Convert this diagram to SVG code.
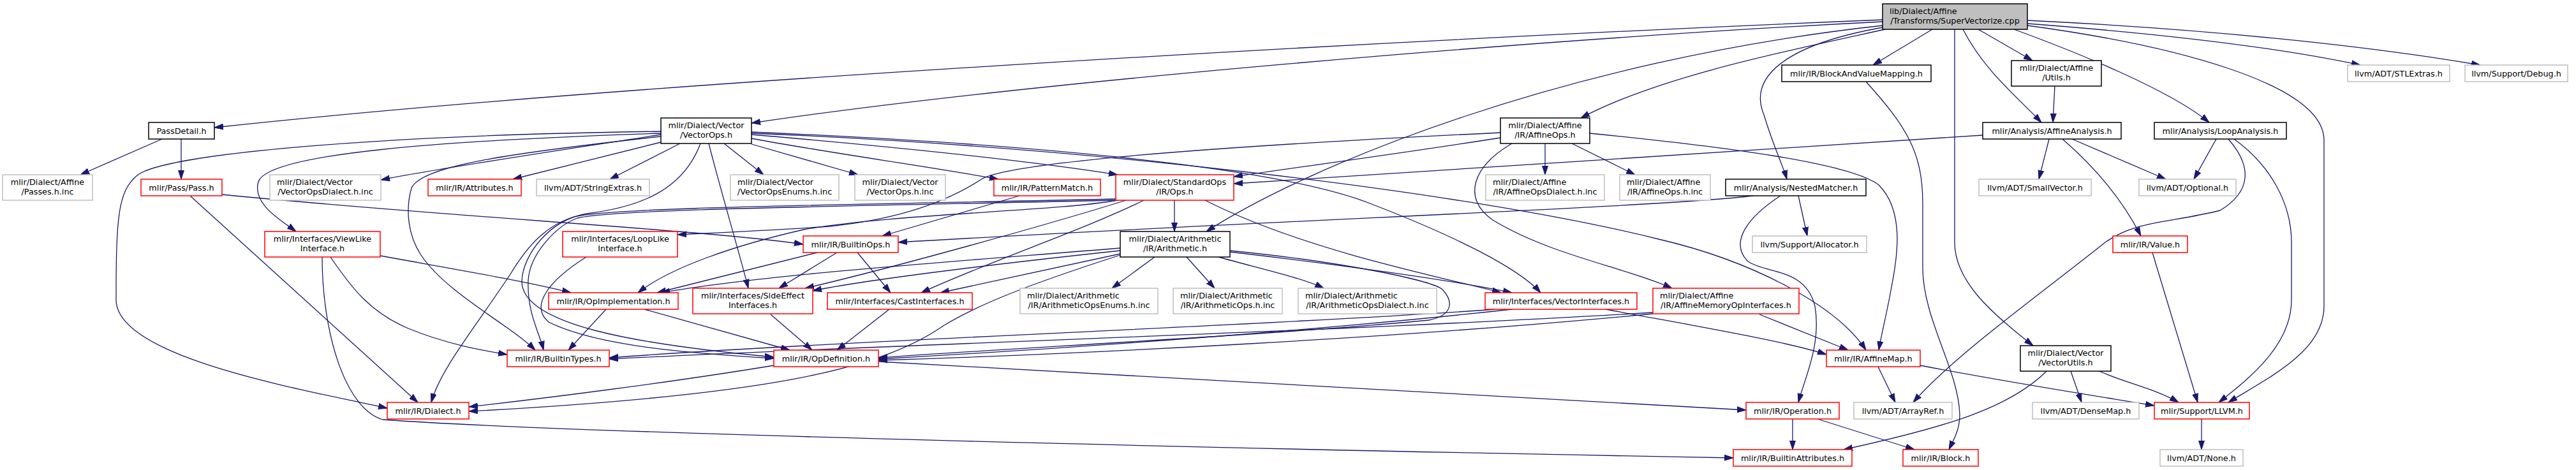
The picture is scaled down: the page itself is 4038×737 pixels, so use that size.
<svg xmlns="http://www.w3.org/2000/svg" width="4038" height="737" viewBox="0 0 4038 737">
<style>
.bg{fill:#ffffff}
.n rect{fill:#ffffff;stroke-width:1.5}
.k rect{stroke:#000000}
.r rect{stroke:#ff0000}
.g rect{stroke:#bfbfbf}
.t rect{fill:#bfbfbf;stroke:#000000}
text{font-family:"DejaVu Sans","Liberation Sans",sans-serif;font-size:12.8px;fill:#000000}
.m{text-anchor:middle}
.s{text-anchor:start}
#edges path{fill:none;stroke:#191970;stroke-width:1.3;marker-end:url(#ah)}
</style>
<defs>
<marker id="ah" viewBox="0 0 14 10" refX="14" refY="5" markerWidth="14" markerHeight="10" markerUnits="userSpaceOnUse" orient="auto">
<path d="M0,0.5 L14,5 L0,9.5 z" fill="#191970" stroke="#191970" stroke-width="1"/>
</marker>
</defs>
<rect class="bg" x="0" y="0" width="4038" height="737"/>
<g id="edges">
<path d="M2951,31 C2200,62 1000,128 336,200"/>
<path d="M2951,34 C2400,62 1600,130 1178,193"/>
<path d="M2955,46 C2800,80 2600,120 2478,185"/>
<path d="M2951,40 C2450,95 2050,260 1891,363"/>
<path d="M3029,46 L2936,102"/>
<path d="M2951,43 C2800,70 2740,120 2765,180 C2780,230 2795,260 2801,281"/>
<path d="M3064,46 L3064,380 C3064,440 3120,490 3187,542"/>
<path d="M3077,46 C3110,110 3160,150 3200,192"/>
<path d="M3101,46 L3186,95"/>
<path d="M3157,46 C3250,80 3400,140 3463,192"/>
<path d="M3178,37 C3350,50 3550,70 3700,102"/>
<path d="M3178,32 C3450,45 3700,70 3888,102"/>
<path d="M3178,40 C3400,70 3643,130 3643,220 L3643,480 C3643,550 3560,590 3493,631"/>
<path d="M254,218 L126,274"/>
<path d="M284,218 L284,281"/>
<path d="M298,307 L655,631"/>
<path d="M348,305 C700,340 1100,360 1259,383"/>
<path d="M1036,206 C600,212 260,240 215,275 C185,300 182,340 182,470 C182,560 470,610 607,640"/>
<path d="M1036,209 C700,220 420,240 405,285 C395,320 440,345 464,363"/>
<path d="M1036,211 C850,240 700,262 597,282"/>
<path d="M1036,214 C800,240 660,260 645,295 C635,330 640,370 660,400 C700,460 800,510 839,549"/>
<path d="M1036,223 L804,281"/>
<path d="M1066,225 L956,281"/>
<path d="M1098,225 C1070,300 1000,325 920,335 C860,345 820,400 818,440 C816,510 1000,540 1213,560"/>
<path d="M1111,225 C1130,300 1160,400 1173,452"/>
<path d="M1135,225 L1197,274"/>
<path d="M1178,226 L1345,274"/>
<path d="M1178,217 C1300,240 1450,260 1565,281"/>
<path d="M1178,211 C1400,230 1600,250 1752,274"/>
<path d="M1178,207 C1600,225 2000,260 2150,320 C2280,370 2380,420 2415,459"/>
<path d="M1178,209 C1700,230 2300,300 2600,375 C2750,410 2880,480 2925,549"/>
<path d="M1598,307 L1383,370"/>
<path d="M1841,314 L1841,363"/>
<path d="M1749,312 C1300,322 960,325 900,340 C860,352 830,380 800,430 C740,520 690,580 676,631"/>
<path d="M1749,314 C1300,324 960,328 905,342 C870,355 830,400 828,440 C826,490 845,520 852,549"/>
<path d="M1752,314 C1650,332 1400,335 1260,360 C1150,385 1050,420 1000,459"/>
<path d="M1765,314 C1650,350 1400,420 1262,452"/>
<path d="M1793,314 C1700,360 1550,410 1444,459"/>
<path d="M1889,314 C1960,350 2050,380 2120,400 C2220,428 2300,445 2353,459"/>
<path d="M1810,403 L1743,452"/>
<path d="M1860,403 L1904,452"/>
<path d="M1910,403 C1970,420 2040,435 2075,452"/>
<path d="M1928,395 C2100,415 2280,440 2370,459"/>
<path d="M1928,393 C2100,410 2250,440 2262,455 C2280,475 2275,495 2240,502 C2000,525 1600,545 1377,561"/>
<path d="M1756,389 C1500,410 1200,430 1036,459"/>
<path d="M1756,393 C1550,415 1350,440 1274,456"/>
<path d="M1756,398 L1474,459"/>
<path d="M1756,400 C1600,450 1530,480 1480,510 C1380,580 1200,620 735,645"/>
<path d="M2748,307 C2600,325 2000,345 1408,380"/>
<path d="M2819,307 L2833,370"/>
<path d="M2791,307 C2740,340 2710,380 2740,410 C2770,430 2830,420 2845,480 C2855,540 2830,590 2819,631"/>
<path d="M2422,225 L2422,274"/>
<path d="M2464,225 L2563,274"/>
<path d="M2352,216 C2200,240 2050,260 1934,277"/>
<path d="M2352,208 C2000,225 1600,250 1540,280 C1480,320 1400,345 1300,355 C1200,362 1100,366 1062,368"/>
<path d="M2370,225 C2310,260 2290,310 2340,345 C2430,400 2550,420 2621,452"/>
<path d="M2492,209 C2700,230 2900,255 2945,290 C2985,330 2975,400 2965,450 C2958,490 2950,520 2945,549"/>
<path d="M3108,212 C2700,240 2300,265 1934,288"/>
<path d="M3212,218 L3196,281"/>
<path d="M3233,218 C3270,250 3320,300 3356,370"/>
<path d="M3248,218 L3395,281"/>
<path d="M3221,135 L3218,192"/>
<path d="M3474,218 L3439,281"/>
<path d="M3493,218 C3530,260 3530,300 3480,330 C3400,350 3350,345 3300,380 C3200,460 3060,560 2999,631"/>
<path d="M3502,218 C3560,260 3592,320 3592,380 L3592,470 C3592,540 3530,590 3478,631"/>
<path d="M3374,396 L3445,631"/>
<path d="M2925,128 C2990,200 3014,240 3014,320 L3014,420 C3014,500 3070,580 3072,650 C3072,675 3062,690 3055,705"/>
<path d="M596,401 C700,420 820,440 895,459"/>
<path d="M518,403 C550,450 580,490 640,515 C700,540 760,550 795,556"/>
<path d="M505,403 C505,520 540,640 600,658 C900,680 2000,705 2717,718"/>
<path d="M919,403 C860,440 830,480 860,505 C940,545 1100,555 1213,562"/>
<path d="M1281,396 L1030,459"/>
<path d="M1312,396 L1221,452"/>
<path d="M1344,396 L1396,459"/>
<path d="M950,485 L891,549"/>
<path d="M1010,485 L1238,549"/>
<path d="M1208,493 L1273,549"/>
<path d="M1394,485 L1312,549"/>
<path d="M2344,485 C2000,510 1300,535 955,561"/>
<path d="M2370,485 C2100,515 1700,545 1377,563"/>
<path d="M2517,485 C2650,510 2800,535 2863,556"/>
<path d="M2591,490 C2100,520 1400,540 955,563"/>
<path d="M2591,492 C2200,530 1700,555 1377,565"/>
<path d="M2758,493 L2897,549"/>
<path d="M1213,573 C1050,600 850,625 735,638"/>
<path d="M1377,567 C1900,595 2400,625 2737,643"/>
<path d="M2944,575 L2971,631"/>
<path d="M3010,573 C3150,600 3280,620 3377,636"/>
<path d="M3208,582 C3150,640 3050,670 2890,705"/>
<path d="M3246,582 L3263,631"/>
<path d="M3291,582 C3330,600 3380,610 3415,631"/>
<path d="M2810,657 L2810,705"/>
<path d="M2849,657 L3001,705"/>
<path d="M3451,657 L3451,705"/>
</g>
<g id="n0" class="n t"><rect x="2951" y="6" width="227" height="40"/><text class="s" x="2962" y="22">lib/Dialect/Affine</text><text class="m" x="3064.5" y="37">/Transforms/SuperVectorize.cpp</text></g>
<g id="n1" class="n k"><rect x="233" y="192" width="103" height="26"/><text class="m" x="284.5" y="209.5">PassDetail.h</text></g>
<g id="n2" class="n g"><rect x="4" y="274" width="141" height="40"/><text class="m" x="74.5" y="290">mlir/Dialect/Affine</text><text class="m" x="74.5" y="305">/Passes.h.inc</text></g>
<g id="n3" class="n r"><rect x="221" y="281" width="127" height="26"/><text class="m" x="284.5" y="298.5">mlir/Pass/Pass.h</text></g>
<g id="n4" class="n k"><rect x="1036" y="185" width="142" height="40"/><text class="m" x="1107" y="201">mlir/Dialect/Vector</text><text class="m" x="1107" y="216">/VectorOps.h</text></g>
<g id="n5" class="n g"><rect x="423" y="274" width="174" height="40"/><text class="s" x="434" y="290">mlir/Dialect/Vector</text><text class="m" x="510" y="305">/VectorOpsDialect.h.inc</text></g>
<g id="n6" class="n r"><rect x="671" y="281" width="146" height="26"/><text class="m" x="744" y="298.5">mlir/IR/Attributes.h</text></g>
<g id="n7" class="n g"><rect x="841" y="281" width="177" height="26"/><text class="m" x="929.5" y="298.5">llvm/ADT/StringExtras.h</text></g>
<g id="n8" class="n g"><rect x="1145" y="274" width="170" height="40"/><text class="s" x="1156" y="290">mlir/Dialect/Vector</text><text class="m" x="1230" y="305">/VectorOpsEnums.h.inc</text></g>
<g id="n9" class="n g"><rect x="1340" y="274" width="142" height="40"/><text class="m" x="1411" y="290">mlir/Dialect/Vector</text><text class="m" x="1411" y="305">/VectorOps.h.inc</text></g>
<g id="n10" class="n r"><rect x="1558" y="281" width="167" height="26"/><text class="m" x="1641.5" y="298.5">mlir/IR/PatternMatch.h</text></g>
<g id="n11" class="n r"><rect x="1749" y="274" width="185" height="40"/><text class="m" x="1841.5" y="290">mlir/Dialect/StandardOps</text><text class="m" x="1841.5" y="305">/IR/Ops.h</text></g>
<g id="n12" class="n k"><rect x="2352" y="185" width="140" height="40"/><text class="m" x="2422" y="201">mlir/Dialect/Affine</text><text class="m" x="2422" y="216">/IR/AffineOps.h</text></g>
<g id="n13" class="n g"><rect x="2329" y="274" width="186" height="40"/><text class="s" x="2340" y="290">mlir/Dialect/Affine</text><text class="m" x="2422" y="305">/IR/AffineOpsDialect.h.inc</text></g>
<g id="n14" class="n g"><rect x="2539" y="274" width="142" height="40"/><text class="s" x="2550" y="290">mlir/Dialect/Affine</text><text class="m" x="2610" y="305">/IR/AffineOps.h.inc</text></g>
<g id="n15" class="n k"><rect x="2793" y="102" width="234" height="26"/><text class="m" x="2910" y="119.5">mlir/IR/BlockAndValueMapping.h</text></g>
<g id="n16" class="n k"><rect x="3153" y="95" width="141" height="40"/><text class="m" x="3223.5" y="111">mlir/Dialect/Affine</text><text class="m" x="3223.5" y="126">/Utils.h</text></g>
<g id="n17" class="n k"><rect x="3108" y="192" width="217" height="26"/><text class="m" x="3216.5" y="209.5">mlir/Analysis/AffineAnalysis.h</text></g>
<g id="n18" class="n k"><rect x="2705" y="281" width="220" height="26"/><text class="m" x="2815" y="298.5">mlir/Analysis/NestedMatcher.h</text></g>
<g id="n19" class="n g"><rect x="3102" y="281" width="176" height="26"/><text class="m" x="3190" y="298.5">llvm/ADT/SmallVector.h</text></g>
<g id="n20" class="n k"><rect x="3377" y="192" width="207" height="26"/><text class="m" x="3480.5" y="209.5">mlir/Analysis/LoopAnalysis.h</text></g>
<g id="n21" class="n g"><rect x="3353" y="281" width="152" height="26"/><text class="m" x="3429" y="298.5">llvm/ADT/Optional.h</text></g>
<g id="n22" class="n g"><rect x="3680" y="102" width="160" height="26"/><text class="m" x="3760" y="119.5">llvm/ADT/STLExtras.h</text></g>
<g id="n23" class="n g"><rect x="3864" y="102" width="161" height="26"/><text class="m" x="3944.5" y="119.5">llvm/Support/Debug.h</text></g>
<g id="n24" class="n r"><rect x="415" y="363" width="181" height="40"/><text class="m" x="505.5" y="379">mlir/Interfaces/ViewLike</text><text class="m" x="505.5" y="394">Interface.h</text></g>
<g id="n25" class="n r"><rect x="607" y="631" width="128" height="26"/><text class="m" x="671" y="648.5">mlir/IR/Dialect.h</text></g>
<g id="n26" class="n r"><rect x="882" y="363" width="180" height="40"/><text class="m" x="972" y="379">mlir/Interfaces/LoopLike</text><text class="m" x="972" y="394">Interface.h</text></g>
<g id="n27" class="n r"><rect x="1259" y="370" width="149" height="26"/><text class="m" x="1333.5" y="387.5">mlir/IR/BuiltinOps.h</text></g>
<g id="n28" class="n r"><rect x="860" y="459" width="203" height="26"/><text class="m" x="961.5" y="476.5">mlir/IR/OpImplementation.h</text></g>
<g id="n29" class="n r"><rect x="1086" y="452" width="188" height="40"/><text class="m" x="1180" y="468">mlir/Interfaces/SideEffect</text><text class="m" x="1180" y="483">Interfaces.h</text></g>
<g id="n30" class="n r"><rect x="1297" y="459" width="227" height="26"/><text class="m" x="1410.5" y="476.5">mlir/Interfaces/CastInterfaces.h</text></g>
<g id="n31" class="n r"><rect x="795" y="549" width="160" height="26"/><text class="m" x="875" y="566.5">mlir/IR/BuiltinTypes.h</text></g>
<g id="n32" class="n r"><rect x="1213" y="549" width="164" height="26"/><text class="m" x="1295" y="566.5">mlir/IR/OpDefinition.h</text></g>
<g id="n33" class="n k"><rect x="1756" y="363" width="172" height="40"/><text class="m" x="1842" y="379">mlir/Dialect/Arithmetic</text><text class="m" x="1842" y="394">/IR/Arithmetic.h</text></g>
<g id="n34" class="n g"><rect x="1599" y="452" width="216" height="40"/><text class="s" x="1610" y="468">mlir/Dialect/Arithmetic</text><text class="m" x="1707" y="483">/IR/ArithmeticOpsEnums.h.inc</text></g>
<g id="n35" class="n g"><rect x="1839" y="452" width="171" height="40"/><text class="s" x="1850" y="468">mlir/Dialect/Arithmetic</text><text class="m" x="1924.5" y="483">/IR/ArithmeticOps.h.inc</text></g>
<g id="n36" class="n g"><rect x="2035" y="452" width="217" height="40"/><text class="s" x="2046" y="468">mlir/Dialect/Arithmetic</text><text class="m" x="2143.5" y="483">/IR/ArithmeticOpsDialect.h.inc</text></g>
<g id="n37" class="n r"><rect x="2328" y="459" width="238" height="26"/><text class="m" x="2447" y="476.5">mlir/Interfaces/VectorInterfaces.h</text></g>
<g id="n38" class="n r"><rect x="2591" y="452" width="229" height="40"/><text class="s" x="2602" y="468">mlir/Dialect/Affine</text><text class="m" x="2705.5" y="483">/IR/AffineMemoryOpInterfaces.h</text></g>
<g id="n39" class="n g"><rect x="2747" y="370" width="179" height="26"/><text class="m" x="2836.5" y="387.5">llvm/Support/Allocator.h</text></g>
<g id="n40" class="n r"><rect x="3312" y="370" width="117" height="26"/><text class="m" x="3370.5" y="387.5">mlir/IR/Value.h</text></g>
<g id="n41" class="n r"><rect x="2863" y="549" width="147" height="26"/><text class="m" x="2936.5" y="566.5">mlir/IR/AffineMap.h</text></g>
<g id="n42" class="n k"><rect x="3167" y="542" width="142" height="40"/><text class="m" x="3238" y="558">mlir/Dialect/Vector</text><text class="m" x="3238" y="573">/VectorUtils.h</text></g>
<g id="n43" class="n r"><rect x="2737" y="631" width="146" height="26"/><text class="m" x="2810" y="648.5">mlir/IR/Operation.h</text></g>
<g id="n44" class="n g"><rect x="2906" y="631" width="154" height="26"/><text class="m" x="2983" y="648.5">llvm/ADT/ArrayRef.h</text></g>
<g id="n45" class="n g"><rect x="3186" y="631" width="167" height="26"/><text class="m" x="3269.5" y="648.5">llvm/ADT/DenseMap.h</text></g>
<g id="n46" class="n r"><rect x="3377" y="631" width="149" height="26"/><text class="m" x="3451.5" y="648.5">mlir/Support/LLVM.h</text></g>
<g id="n47" class="n r"><rect x="2717" y="705" width="186" height="26"/><text class="m" x="2810" y="722.5">mlir/IR/BuiltinAttributes.h</text></g>
<g id="n48" class="n r"><rect x="2983" y="705" width="118" height="26"/><text class="m" x="3042" y="722.5">mlir/IR/Block.h</text></g>
<g id="n49" class="n g"><rect x="3386" y="705" width="130" height="26"/><text class="m" x="3451" y="722.5">llvm/ADT/None.h</text></g>
</svg>
